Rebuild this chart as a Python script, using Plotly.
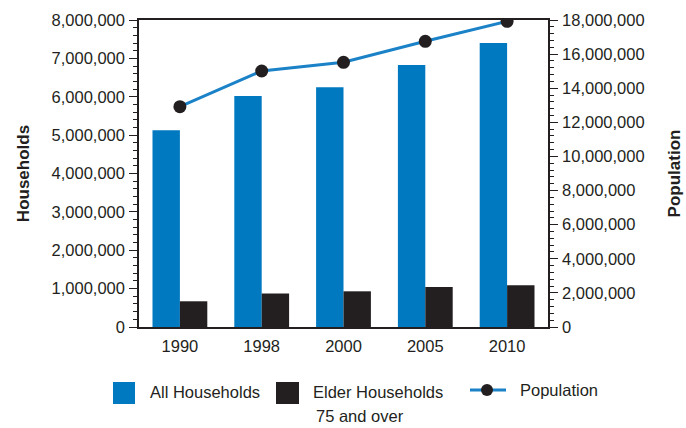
import plotly.graph_objects as go

years = ["1990", "1998", "2000", "2005", "2010"]
all_households = [5130000, 6020000, 6250000, 6830000, 7400000]
elder_households = [670000, 870000, 930000, 1040000, 1090000]
population = [12920000, 15010000, 15520000, 16750000, 17920000]

BLUE = "#0079C1"
LINE_BLUE = "#1B82C8"
DARK = "#231F20"
FONT = "Liberation Sans, Arial, sans-serif"
FS = 16.5

W, H = 686, 428
L, R, T, B = 139, 138, 20, 101
PW, PH = W - L - R, H - T - B


def px(x):
    return (x - L) / PW


def py(y):
    return (H - B - y) / PH


fig = go.Figure()
fig.add_trace(go.Bar(x=years, y=all_households, name="All Households",
                     marker=dict(color=BLUE, line=dict(width=0))))
fig.add_trace(go.Bar(x=years, y=elder_households, name="Elder Households",
                     marker=dict(color=DARK, line=dict(width=0))))
fig.add_trace(go.Scatter(x=years, y=population, name="Population", yaxis="y2",
                         mode="lines+markers",
                         line=dict(color=LINE_BLUE, width=3),
                         marker=dict(color=DARK, size=13)))

axis_common = dict(showline=True, linecolor=DARK, linewidth=1.5,
                   showgrid=False, zeroline=False, automargin=False,
                   tickfont=dict(family=FONT, size=FS, color=DARK))

fig.update_layout(
    width=W, height=H,
    margin=dict(l=L, r=R, t=T, b=B),
    paper_bgcolor="white", plot_bgcolor="white",
    barmode="group", bargap=0.33, bargroupgap=0,
    showlegend=False,
    font=dict(family=FONT, color=DARK),
    xaxis=dict(**axis_common, ticks="", mirror=True, type="category",
               ticklabelstandoff=3),
    yaxis=dict(**axis_common, range=[0, 8000000], dtick=1000000,
               tickformat=",d", ticks="outside", ticklen=8, tickcolor=DARK,
               tickwidth=1.2, ticklabelstandoff=1,
               minor=dict(ticks="outside", ticklen=4, dtick=200000,
                          tickcolor=DARK, tickwidth=1),
               title=dict(text="<b>Households</b>", standoff=18,
                          font=dict(family=FONT, size=17, color=DARK))),
    yaxis2=dict(**axis_common, overlaying="y", side="right",
                range=[0, 18000000], dtick=2000000, tickformat=",d",
                ticks="outside", ticklen=8, tickcolor=DARK, tickwidth=1.2,
                ticklabelstandoff=1,
                minor=dict(ticks="outside", ticklen=4, dtick=400000,
                           tickcolor=DARK, tickwidth=1),
                title=dict(text="<b>Population</b>", standoff=24,
                           font=dict(family=FONT, size=17, color=DARK))),
)

# Legend drawn beneath the plot
shapes = [
    dict(type="rect", xref="paper", yref="paper", x0=px(113), x1=px(135),
         y0=py(404), y1=py(382), fillcolor=BLUE, line=dict(width=0)),
    dict(type="rect", xref="paper", yref="paper", x0=px(276), x1=px(299),
         y0=py(404), y1=py(382), fillcolor=DARK, line=dict(width=0)),
    dict(type="line", xref="paper", yref="paper", x0=px(470), x1=px(506),
         y0=py(390), y1=py(390), line=dict(color=LINE_BLUE, width=3)),
    dict(type="circle", xref="paper", yref="paper", x0=px(481), x1=px(493),
         y0=py(396), y1=py(384), fillcolor=DARK, line=dict(width=0)),
]
annotations = [
    dict(text="All Households", x=px(148), y=py(392), xanchor="left",
         yanchor="middle"),
    dict(text="Elder Households", x=px(311), y=py(392), xanchor="left",
         yanchor="middle"),
    dict(text="75 and over", x=px(360), y=py(416), xanchor="center",
         yanchor="middle"),
    dict(text="Population", x=px(518), y=py(390), xanchor="left",
         yanchor="middle"),
]
for a in annotations:
    a.update(xref="paper", yref="paper", showarrow=False,
             font=dict(family=FONT, size=FS, color=DARK))

fig.update_layout(shapes=shapes, annotations=annotations)
fig.write_html("out.html")
